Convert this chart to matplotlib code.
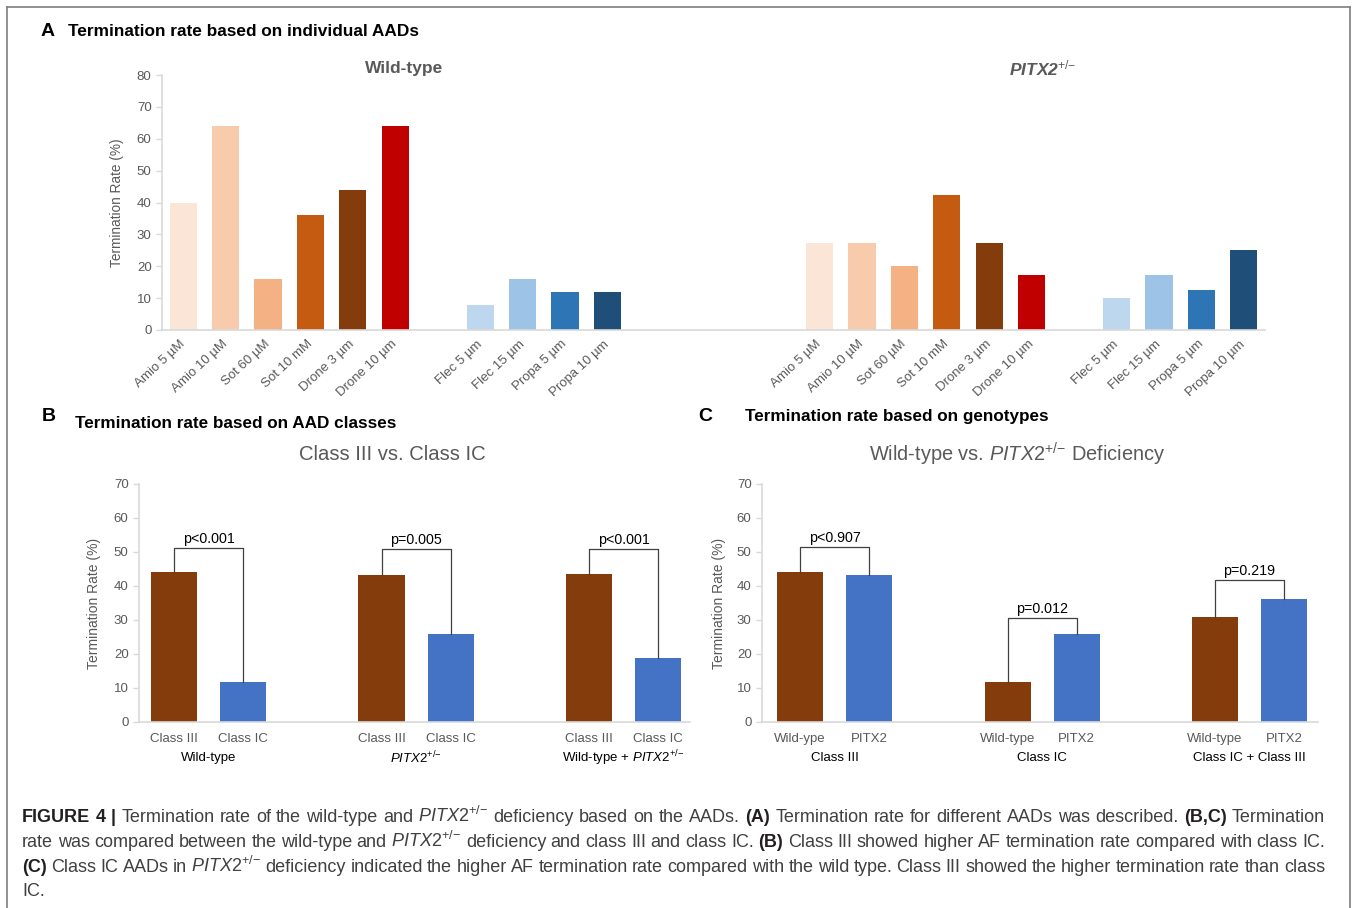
import matplotlib
matplotlib.use("Agg")
import matplotlib.pyplot as plt
from matplotlib.lines import Line2D
import numpy as np

plt.rcParams['font.family'] = ['Liberation Sans', 'DejaVu Sans']
plt.rcParams['mathtext.fontset'] = 'custom'
plt.rcParams['mathtext.rm'] = 'Liberation Sans'
plt.rcParams['mathtext.it'] = 'Liberation Sans:italic'
plt.rcParams['mathtext.bf'] = 'Liberation Sans:bold'
plt.rcParams['mathtext.bfit'] = 'Liberation Sans:italic:bold'

W, H = 1357, 908
GRAY = '#595959'
AXIS = '#D9D9D9'

# ---- panel A data ----
drugs_c3 = ['Amio 5 µM', 'Amio 10 µM', 'Sot 60 µM', 'Sot 10 mM', 'Drone 3 µm', 'Drone 10 µm']
drugs_c1 = ['Flec 5 µm', 'Flec 15 µm', 'Propa 5 µm', 'Propa 10 µm']
wt_c3 = [40, 64, 16, 36, 44, 64]
wt_c1 = [8, 16, 12, 12]
pitx_c3 = [27.3, 27.3, 20, 42.5, 27.3, 17.4]
pitx_c1 = [10, 17.4, 12.5, 25]
colors_c3 = ['#FBE5D6', '#F8CBAD', '#F4B183', '#C55A11', '#843C0C', '#C00000']
colors_c1 = ['#BDD7EE', '#9DC3E6', '#2E75B6', '#1F4E79']

SUP = r'^{{+}/{-}}'
PX = r'$\mathit{PITX2}' + SUP + '$'

# ---- panel B data ----
b_groups = ['Wild-type', PX, 'Wild-type + ' + PX]
b_ticks = ['Class III', 'Class IC']
b_class3 = [44.1, 43.2, 43.6]
b_class1c = [11.9, 25.9, 18.9]
b_pvals = ['p<0.001', 'p=0.005', 'p<0.001']
b_bracket = [51.2, 50.9, 50.9]

# ---- panel C data ----
c_groups = ['Class III', 'Class IC', 'Class IC + Class III']
c_ticks = [['Wild-ype', 'PITX2'], ['Wild-type', 'PITX2'], ['Wild-type', 'PITX2']]
c_wt = [44.1, 11.9, 31.0]
c_pitx = [43.2, 25.9, 36.2]
c_pvals = ['p<0.907', 'p=0.012', 'p=0.219']
c_bracket = [51.5, 30.6, 41.8]

BROWN = '#843C0C'
BLUE = '#4472C4'


def rect(left, right, top, bottom):
    return [left / W, 1 - bottom / H, (right - left) / W, (bottom - top) / H]


def px(x, y):
    return x / W, 1 - y / H


def style_axis(ax, ymax, tick_fs):
    for s in ['top', 'right']:
        ax.spines[s].set_visible(False)
    for s in ['left', 'bottom']:
        ax.spines[s].set_color(AXIS)
        ax.spines[s].set_linewidth(1.2)
    ax.set_ylim(0, ymax)
    ax.set_yticks(np.arange(0, ymax + 1, 10))
    ax.tick_params(axis='y', colors=AXIS, labelcolor=GRAY, labelsize=tick_fs, length=4, width=1)
    ax.tick_params(axis='x', length=0, labelcolor=GRAY)


fig = plt.figure(figsize=(W / 100, H / 100), dpi=100)

# frame around the figure
for xs, ys in [((7, 7), (7, H)), ((7, 1350), (7, 7)), ((1350, 1350), (7, H))]:
    fig.add_artist(Line2D([x / W for x in xs], [1 - y / H for y in ys], color='#7f7f7f', lw=1.2))

# ---------------- panel A ----------------
axA = fig.add_axes(rect(162, 1265, 75, 330))
style_axis(axA, 80, 9.5)
axA.set_xlim(-0.5, 25.5)
pos_wt3 = np.arange(0, 6)
pos_wt1 = np.arange(7, 11)
pos_px3 = np.arange(15, 21)
pos_px1 = np.arange(22, 26)
bw = 0.64
axA.bar(pos_wt3, wt_c3, bw, color=colors_c3)
axA.bar(pos_wt1, wt_c1, bw, color=colors_c1)
axA.bar(pos_px3, pitx_c3, bw, color=colors_c3)
axA.bar(pos_px1, pitx_c1, bw, color=colors_c1)
allpos = np.concatenate([pos_wt3, pos_wt1, pos_px3, pos_px1])
alllab = drugs_c3 + drugs_c1 + drugs_c3 + drugs_c1
axA.set_xticks(allpos)
axA.set_xticklabels(alllab, rotation=43, ha='right', va='center', rotation_mode='anchor', fontsize=9.5)
axA.tick_params(axis='x', pad=9)
axA.set_ylabel('Termination Rate (%)', color=GRAY, fontsize=9.8)
axA.yaxis.set_label_coords(-0.034, 0.5)

fig.text(*px(404, 68), 'Wild-type', color=GRAY, fontsize=12.5, fontweight='bold', ha='center', va='center')
fig.text(*px(1043, 68), r'$\mathbfit{PITX2}' + SUP + '$', color=GRAY, fontsize=12.5, ha='center', va='center')

fig.text(*px(41, 32), 'A', fontsize=14, fontweight='bold', ha='left', va='center')
fig.text(*px(68, 32), 'Termination rate based on individual AADs', fontsize=12.4, fontweight='bold', ha='left', va='center')


# ---------------- panels B and C ----------------
def grouped(ax, left_vals, right_vals, ticklabels, groups, pvals, tops):
    x = np.arange(len(left_vals))
    off, w = 0.1665, 0.222
    ax.bar(x - off, left_vals, w, color=BROWN)
    ax.bar(x + off, right_vals, w, color=BLUE)
    ticks = []
    labels = []
    for i in x:
        ticks += [i - off, i + off]
        labels += list(ticklabels[i])
    ax.set_xticks(ticks)
    ax.set_xticklabels(labels, fontsize=9.5)
    ax.tick_params(axis='x', pad=8)
    for i in x:
        ax.text(i, -0.152, groups[i], transform=ax.get_xaxis_transform(),
                ha='center', va='center', fontsize=9.5, color='black')
        xl, xr = i - off, i + off
        ax.plot([xl, xl, xr, xr], [left_vals[i], tops[i], tops[i], right_vals[i]],
                color='#404040', lw=0.9)
        ax.text(i, tops[i] + 0.7, pvals[i], ha='center', va='bottom', fontsize=10.3, color='black')
    ax.set_ylabel('Termination Rate (%)', color=GRAY, fontsize=10)


axB = fig.add_axes(rect(139, 690, 484, 722))
style_axis(axB, 70, 9.5)
axB.set_xlim(-0.335, 2.32)
grouped(axB, b_class3, b_class1c, [b_ticks] * 3, b_groups, b_pvals, b_bracket)
axB.yaxis.set_label_coords(-0.069, 0.5)
fig.text(*px(392, 454), 'Class III vs. Class IC', color=GRAY, fontsize=14.6, ha='center', va='center')
fig.text(*px(42, 417), 'B', fontsize=14, fontweight='bold', ha='left', va='center')
fig.text(*px(75, 423), 'Termination rate based on AAD classes', fontsize=12.3, fontweight='bold', ha='left', va='center')

axC = fig.add_axes(rect(762, 1318, 484, 722))
style_axis(axC, 70, 9.5)
axC.set_xlim(-0.35, 2.33)
grouped(axC, c_wt, c_pitx, c_ticks, c_groups, c_pvals, c_bracket)
axC.yaxis.set_label_coords(-0.065, 0.5)
fig.text(*px(1017, 454), 'Wild-type vs. ' + PX + ' Deficiency', color=GRAY, fontsize=14.4, ha='center', va='center')
fig.text(*px(698, 417), 'C', fontsize=14, fontweight='bold', ha='left', va='center')
fig.text(*px(745, 417), 'Termination rate based on genotypes', fontsize=12.3, fontweight='bold', ha='left', va='center')

# ---------------- caption (justified) ----------------
caption = [
    '*FIGURE *4 *| Termination rate of the wild-type and ' + PX + ' deficiency based on the AADs. *(A) Termination '
    'rate for different AADs was described. *(B,C) Termination',
    'rate was compared between the wild-type and ' + PX + ' deficiency and class III and class IC. *(B) Class III '
    'showed higher AF termination rate compared with class IC.',
    '*(C) Class IC AADs in ' + PX + ' deficiency indicated the higher AF termination rate compared with the wild '
    'type. Class III showed the higher termination rate than class',
    'IC.',
]
baselines = [822, 847, 872, 896]
x0, x1 = 22, 1325
renderer = fig.canvas.get_renderer()
for k, line in enumerate(caption):
    words = line.split(' ')
    texts = []
    for wd in words:
        bold = wd.startswith('*')
        t = fig.text(0, 1 - baselines[k] / H, wd.lstrip('*'), fontsize=13,
                     fontweight='bold' if bold else 'normal',
                     color='#231f20' if bold else '#404040', ha='left', va='baseline')
        texts.append(t)
    widths = [t.get_window_extent(renderer).width for t in texts]
    if k < len(caption) - 1:
        gap = (x1 - x0 - sum(widths)) / (len(words) - 1)
    else:
        gap = 3.7
    x = x0
    for t, wdt in zip(texts, widths):
        t.set_x(x / W)
        x += wdt + gap

fig.savefig('out.png', dpi=100)
